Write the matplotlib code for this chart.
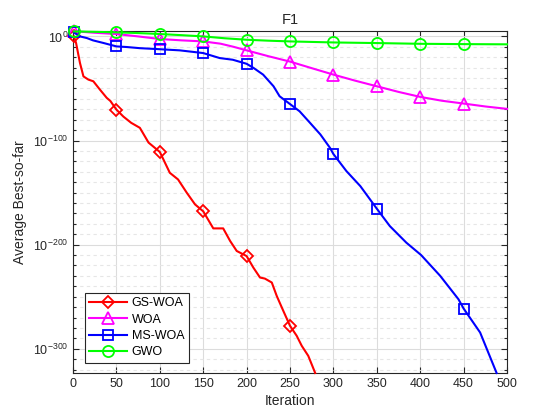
import numpy as np
import matplotlib
matplotlib.use("Agg")
import matplotlib.pyplot as plt
from matplotlib.ticker import MultipleLocator, FuncFormatter

plt.rcParams['font.family'] = ['Liberation Sans', 'DejaVu Sans']
plt.rcParams['mathtext.fontset'] = 'custom'
plt.rcParams['mathtext.rm'] = 'Liberation Sans'
plt.rcParams['mathtext.default'] = 'regular'

# values are log10 of the average best-so-far
gs_iter = [1, 3.5, 8, 12, 17.7, 23.4, 31, 38.8, 43, 50, 58, 67, 77, 87, 100, 111.5, 121, 131,
           140.6, 150, 161.6, 173, 181, 188.6, 200, 207.7, 215.4, 221, 229, 234.7, 242.3, 250,
           257.7, 263.5, 271, 279]
gs_log = [0, -6.3, -25.5, -38.4, -41.5, -43.1, -51.1, -59, -62, -70.3, -77, -83, -87.8, -102,
          -111, -131, -137.4, -150.1, -161.4, -168, -184.4, -184.4, -196.5, -206.1, -211, -222,
          -231.6, -232.6, -236.4, -249.3, -263.7, -278, -287.6, -297.2, -306.8, -323.3]

woa_iter = [1, 25, 50, 75, 100, 125, 150, 170, 185, 200, 225, 250, 275, 300, 325, 350, 375,
            400, 425, 450, 475, 500]
woa_log = [5, 3.5, 2.3, 0, -2.5, -3.8, -4.8, -7, -10, -13.4, -19, -24.2, -30.5, -36.7, -42.5,
           -47.9, -53.3, -58.1, -61.8, -64.5, -67.3, -69.6]

ms_iter = [1, 8, 16, 23, 35, 50, 62, 77, 100, 123, 150, 169, 184, 200, 208, 219, 231, 238, 250,
           261, 273, 285, 296, 300, 315, 331, 350, 365, 384, 401, 423, 444, 450, 469, 488]
ms_log = [3.8, 0, -1.6, -3.8, -6.3, -9.6, -10.2, -11.3, -12.3, -13.4, -16, -20.8, -22.4, -26.3,
          -30.3, -36.7, -47.9, -57.5, -65, -71.9, -83, -94.2, -107, -113, -129.4, -143.8, -165.5,
          -182.2, -198.1, -210, -230, -252.4, -261.4, -284.4, -323.3]

gwo_iter = [1, 25, 50, 75, 100, 125, 150, 175, 200, 225, 250, 300, 350, 400, 450, 500]
gwo_log = [4.8, 4.4, 3.9, 3.2, 2.3, 1.2, 0, -1.8, -3.2, -4.1, -4.8, -5.8, -6.4, -7.1, -7.4, -7.6]

mark_iters = [1, 50, 100, 150, 200, 250, 300, 350, 400, 450]

series = [
    ('GS-WOA', gs_iter, gs_log, '#ff0000', 'D', 6.5),
    ('WOA', woa_iter, woa_log, '#ff00ff', '^', 8),
    ('MS-WOA', ms_iter, ms_log, '#0000ff', 's', 7),
    ('GWO', gwo_iter, gwo_log, '#00ff00', 'o', 8),
]

fig = plt.figure(figsize=(5.6, 4.2), dpi=100)
ax = fig.add_axes([0.1304, 0.1119, 0.775, 0.8143])

for name, it, lv, col, mk, ms in series:
    idx = [i for i, v in enumerate(it) if v in mark_iters]
    ax.plot(it, lv, color=col, lw=1.5, marker=mk, markersize=ms, mfc='none', mew=1.3,
            markevery=idx, label=name, clip_on=False, zorder=3)

ax.set_xlim(0, 500)
ax.set_ylim(-323.3, 5.2)
ax.xaxis.set_major_locator(MultipleLocator(50))
ax.yaxis.set_major_locator(MultipleLocator(100))
ax.yaxis.set_minor_locator(MultipleLocator(10))
ax.yaxis.set_major_formatter(FuncFormatter(lambda v, p: r'$10^{%d}$' % int(round(v))))

ax.grid(True, which='major', color='#dcdcdc', lw=0.8, ls='-')
ax.grid(True, which='minor', axis='y', color='#e6e6e6', lw=0.8, ls=(0, (3, 3)))
ax.set_axisbelow(True)

ax.tick_params(which='both', direction='in', top=True, right=True, colors='#262626',
               labelsize=9, width=0.8)
ax.tick_params(which='major', length=4)
ax.tick_params(which='minor', length=2.5)
for sp in ax.spines.values():
    sp.set_color('#262626')
    sp.set_linewidth(0.8)

ax.set_title('F1', fontsize=10.5, color='#262626', pad=5)
ax.set_xlabel('Iteration', fontsize=10, color='#262626', labelpad=3)
ax.set_ylabel('Average Best-so-far', fontsize=10, color='#262626', labelpad=4)

leg = ax.legend(loc='lower left', bbox_to_anchor=(0.027, 0.03), borderaxespad=0,
                fontsize=9, fancybox=False, framealpha=1, edgecolor='#262626',
                handlelength=3.0, handletextpad=0.4, labelspacing=0.35, borderpad=0.35)
leg.get_frame().set_linewidth(0.8)
leg.set_zorder(5)

fig.savefig('out.png', dpi=100)
